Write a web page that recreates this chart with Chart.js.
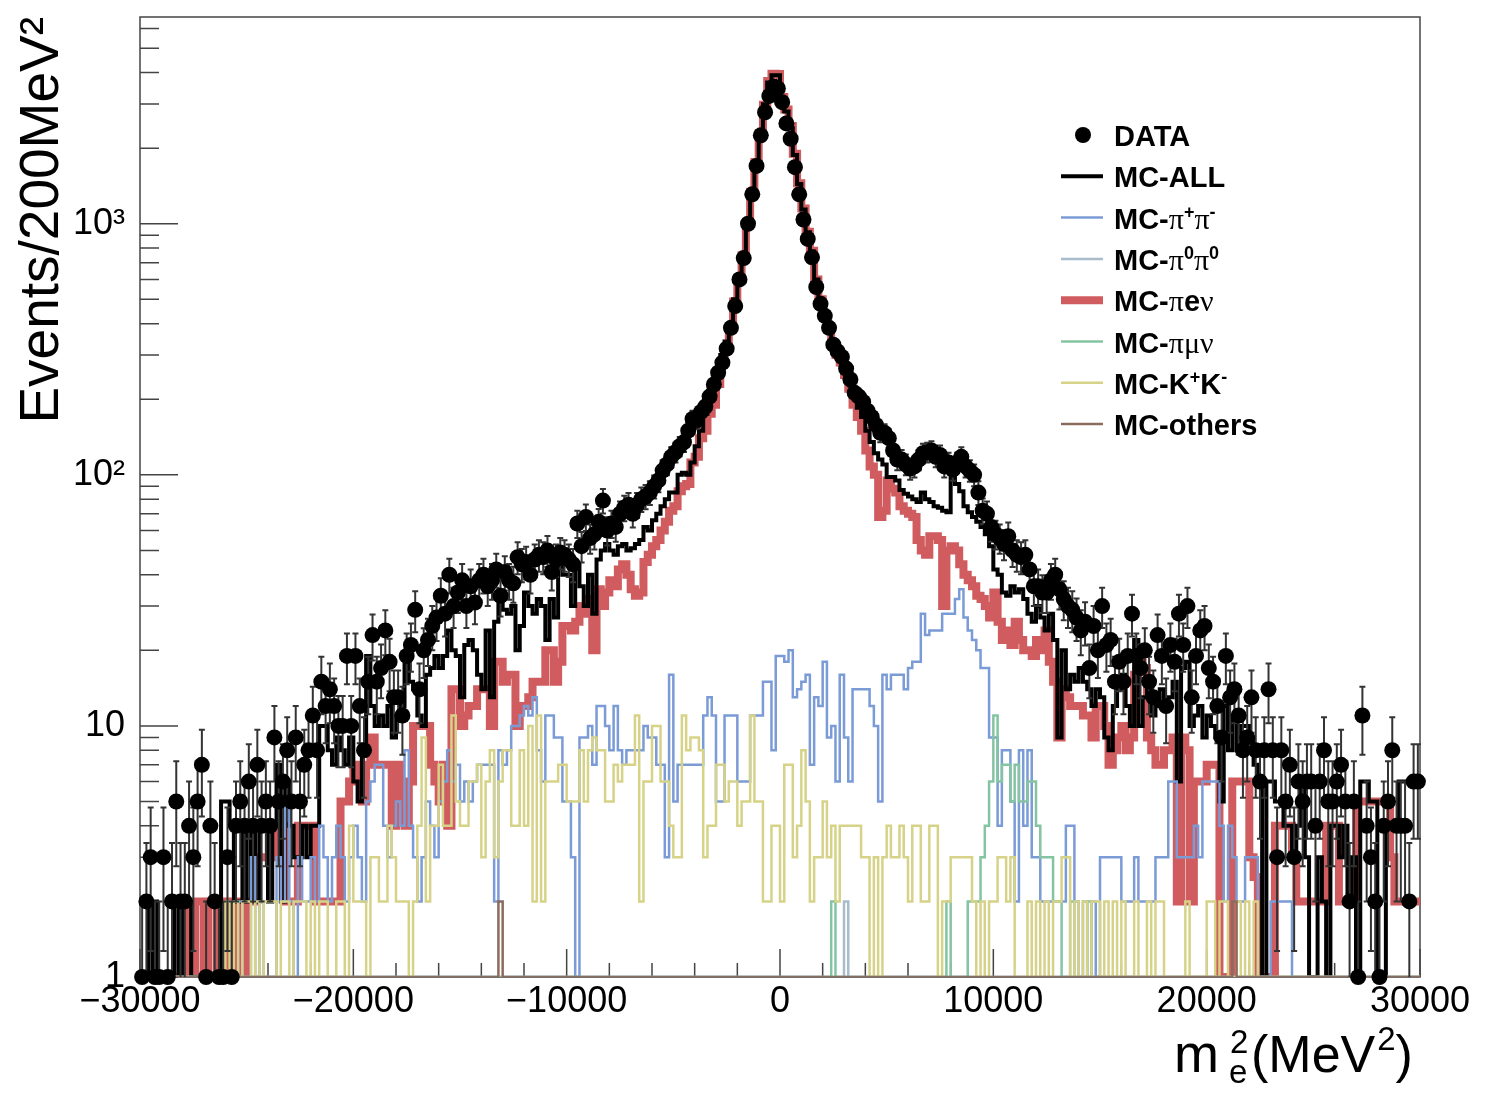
<!DOCTYPE html>
<html>
<head>
<meta charset="utf-8">
<title>m_e^2 distribution</title>
<script src="https://cdn.jsdelivr.net/npm/chart.js@4.4.1/dist/chart.umd.min.js"></script>
<style>
  html, body { margin: 0; padding: 0; background: #fff; }
  canvas { display: block; }
</style>
</head>
<body>
<canvas id="chart" width="1503" height="1098"></canvas>
<script>
// binning: 300 bins of 200 MeV^2 from -30000 to 30000
const X_LOW = -30000
const X_HIGH = 30000
const BIN_WIDTH = 200
const Y_MIN = 1
const Y_MAX = 6660

const xTickValues = [-30000, -20000, -10000, 0, 10000, 20000, 30000]
const yTickValues = [1, 10, 100, 1000]
const yTickLabels = ['1', '10', '10\u00b2', '10\u00b3']

// DATA (events per bin), 20 bins per line
const dataCounts = [
  1, 2, 3, 1, 1, 3, 1, 2, 5, 2, 2, 4, 3, 5, 7, 1, 4, 2, 1, 1,
  3, 1, 4, 5, 4, 6, 4, 7, 4, 5, 4, 9, 5, 6, 8, 5, 9, 5, 7, 8,
  11, 8, 15, 12, 14, 12, 10, 10, 19, 10, 19, 12, 8, 15, 23, 15, 17, 24, 18, 13,
  13, 11, 19, 21, 29, 14, 20, 22, 25, 27, 33, 28, 40, 30, 34, 38, 30, 36, 31, 38,
  40, 36, 38, 42, 33, 41, 38, 37, 47, 44, 45, 40, 46, 48, 47, 50, 41, 46, 49, 48,
  46, 44, 64, 52, 68, 56, 58, 65, 79, 60, 64, 62, 70, 74, 76, 70, 76, 80, 82, 85,
  90, 95, 104, 110, 118, 123, 130, 135, 150, 167, 165, 178, 187, 205, 229, 255, 280, 318, 385, 470,
  600, 730, 1000, 1310, 1700, 2250, 2780, 3230, 3520, 3460, 3050, 2510, 2180, 1680, 1310, 1040, 870, 735, 560, 480,
  430, 385, 330, 310, 295, 265, 240, 212, 205, 195, 180, 170, 158, 147, 147, 140, 125, 115, 115, 110,
  106, 108, 115, 122, 123, 125, 118, 120, 108, 112, 105, 112, 118, 108, 104, 100, 85, 72, 70, 62,
  58, 56, 53, 57, 50, 48, 47, 48, 42, 36, 36, 34, 34, 38, 40, 35, 32, 30, 29, 27,
  24, 26, 17, 25, 20, 30, 21, 22, 15, 18, 15, 19, 28, 19, 17, 20, 15, 13, 23, 19,
  12, 21, 18, 28, 21, 30, 13, 19, 24, 25, 17, 15, 12, 9, 19, 13, 14, 11, 8, 9,
  13, 8, 6, 8, 14, 8, 3, 8, 5, 7, 3, 6, 5, 6, 6, 4, 6, 8, 5, 5,
  6, 7, 5, 2, 5, 1, 11, 4, 3, 2, 1, 4, 5, 8, 4, 4, 4, 2, 6, 6
]

// MC-ALL
const mcAll = [
  2, 2, 1, 2, 0, 0, 0, 1, 2, 0, 2, 2, 0, 1, 0, 0, 0, 0, 0, 5,
  5, 4, 2, 2, 4, 2, 4, 2, 4, 4, 2, 4, 7, 2, 6, 4, 3, 3, 4, 3,
  4, 4, 10, 10, 8, 7, 9, 8, 7, 9, 6, 5, 8, 19, 12, 10, 11, 10, 12, 9,
  11, 12, 18, 15, 14, 11, 10, 16, 17, 19, 17, 19, 24, 20, 19, 13, 21, 22, 20, 16,
  14, 24, 13, 26, 31, 29, 28, 30, 20, 25, 34, 30, 28, 32, 30, 22, 32, 27, 44, 40,
  40, 30, 44, 36, 30, 40, 28, 46, 50, 53, 50, 48, 52, 53, 50, 51, 53, 55, 62, 60,
  66, 70, 75, 80, 85, 85, 100, 102, 100, 112, 130, 150, 175, 200, 230, 265, 300, 340, 400, 500,
  620, 760, 1020, 1350, 1770, 2310, 2990, 3650, 3900, 3900, 3150, 2800, 2400, 1880, 1440, 1140, 925, 775, 600, 500,
  440, 390, 340, 315, 290, 260, 230, 205, 185, 170, 150, 135, 122, 115, 110, 98, 98, 95, 87, 84,
  82, 80, 78, 85, 80, 78, 75, 74, 72, 71, 100, 92, 86, 75, 71, 68, 65, 62, 58, 52,
  42, 40, 34, 33, 36, 34, 35, 32, 28, 26, 30, 27, 24, 28, 22, 9, 20, 14, 16, 15,
  17, 15, 14, 12, 14, 13, 9, 8, 12, 14, 16, 12, 10, 22, 10, 13, 14, 11, 12, 14,
  12, 13, 15, 6, 17, 18, 10, 11, 12, 9, 11, 10, 9, 5, 12, 8, 11, 8, 10, 10,
  9, 7, 6, 0, 6, 6, 5, 5, 4, 4, 3, 4, 6, 3, 0, 0, 3, 2, 0, 4,
  4, 3, 4, 2, 3, 0, 6, 6, 5, 5, 0, 0, 4, 4, 4, 6, 6, 6, 6, 6
]

// MC-pi e nu
const mcPiENu = [
  0, 0, 0, 0, 0, 0, 0, 0, 0, 0, 0, 2, 0, 2, 2, 0, 2, 2, 0, 2,
  2, 0, 2, 2, 0, 2, 2, 3, 3, 3, 3, 3, 4, 4, 2, 2, 2, 4, 4, 4,
  4, 2, 2, 2, 2, 2, 2, 5, 5, 6, 7, 6, 5, 7, 9, 7, 7, 7, 7, 4,
  7, 5, 4, 6, 10, 10, 10, 10, 7, 6, 5, 7, 4, 14, 14, 10, 11, 12, 12, 14,
  14, 14, 10, 18, 18, 15, 16, 16, 10, 12, 12, 13, 15, 15, 15, 20, 20, 15, 18, 25,
  25, 24, 26, 30, 28, 32, 20, 35, 30, 34, 38, 36, 42, 44, 40, 35, 33, 34, 45, 48,
  52, 55, 60, 65, 72, 75, 86, 90, 92, 112, 118, 140, 150, 175, 190, 230, 280, 320, 390, 490,
  610, 750, 1010, 1340, 1760, 2300, 2980, 3700, 3960, 3950, 3200, 2850, 2450, 1900, 1450, 1150, 930, 780, 600, 500,
  430, 380, 330, 300, 280, 250, 220, 190, 170, 150, 125, 108, 100, 68, 72, 95, 88, 85, 75, 72,
  70, 68, 55, 50, 48, 57, 57, 55, 30, 50, 52, 50, 44, 40, 38, 36, 33, 32, 30, 27,
  34, 26, 22, 24, 21, 26, 22, 20, 20, 19, 22, 20, 24, 18, 15, 9, 14, 13, 12, 12,
  12, 11, 11, 9, 12, 12, 10, 7, 8, 9, 10, 8, 9, 16, 18, 17, 9, 8, 7, 7,
  8, 8, 9, 2, 9, 8, 2, 6, 6, 6, 7, 7, 7, 0, 0, 0, 6, 6, 6, 6,
  3, 2.5, 0, 0, 0, 0, 4, 4, 4, 4, 3, 2, 2, 2, 2, 2, 2, 2, 4, 4,
  4, 2, 2, 2, 2, 5, 5, 5, 5, 5, 5, 5, 5, 3, 2, 2, 2, 2, 2, 2
]

// MC-pi+ pi-
const mcPiPiCharged = [
  0, 0, 0, 0, 0, 0, 0, 0, 0, 0, 0, 0, 0, 0, 0, 0, 0, 0, 0, 0,
  0, 0, 0, 2, 0, 0, 3, 0, 2, 0, 0, 0, 3, 2, 5, 2, 0, 3, 2, 2,
  3, 2, 4, 3, 2, 3, 4, 3, 2, 3, 4, 3, 2, 5, 6, 7, 7, 4, 3, 4,
  5, 4, 8, 4, 3, 2, 3, 5, 4, 3, 5, 6, 8, 6, 7, 5, 6, 5, 6, 7,
  7, 7, 7, 2, 8, 7, 8, 10, 10, 11, 12, 11, 13, 8, 6, 11, 11, 9, 9, 5,
  5, 3, 0, 9, 9, 10, 7, 12, 12, 10, 8, 12, 8, 7, 8, 8, 8, 8, 10, 9,
  9, 7, 7, 3, 16, 5, 7, 7, 7, 7, 7, 7, 11, 13, 11, 5, 5, 11, 11, 11,
  6, 6, 6, 11, 11, 11, 15, 15, 8, 19, 19, 18, 20, 13, 14, 15, 16, 7, 13, 12,
  18, 9, 10, 6, 16, 9, 6, 14, 14, 14, 14, 12, 10, 5, 16, 14, 16, 16, 16, 14,
  17, 18, 18, 28, 23, 24, 24, 24, 28, 28, 28, 32, 35, 27, 24, 22, 20, 17, 17, 9,
  9, 4, 8, 8, 5, 2, 8, 4, 8, 3, 3, 2, 2, 2, 2, 2, 2, 4, 4, 2,
  0, 2, 0, 2, 0, 3, 3, 3, 3, 3, 2, 2, 2, 3, 2, 2, 2, 2, 3, 3,
  3, 6, 6, 3, 3, 3, 3, 4, 3, 6, 6, 6, 6, 4, 2, 4, 3, 2, 2, 3,
  3, 3, 0, 0, 0, 2, 2, 2, 2, 2, 0, 0, 0, 0, 0, 0, 0, 0, 0, 0,
  0, 0, 0, 0, 0, 0, 0, 0, 0, 0, 0, 0, 0, 0, 0, 0, 0, 0, 0, 0
]

// MC-pi0 pi0
const mcPiPiNeutral = [
  0, 0, 0, 0, 0, 0, 0, 0, 0, 0, 0, 0, 0, 0, 0, 0, 0, 0, 0, 0,
  0, 0, 0, 0, 0, 0, 0, 0, 0, 0, 0, 0, 0, 0, 0, 0, 0, 0, 0, 0,
  0, 0, 0, 0, 0, 0, 0, 0, 0, 0, 0, 0, 0, 0, 0, 0, 0, 0, 0, 0,
  0, 0, 0, 0, 0, 0, 0, 0, 0, 0, 0, 0, 0, 0, 0, 0, 0, 0, 0, 0,
  0, 0, 0, 0, 0, 0, 0, 0, 0, 0, 0, 0, 0, 0, 0, 0, 0, 0, 0, 0,
  0, 0, 0, 0, 0, 0, 0, 0, 0, 0, 0, 0, 0, 0, 0, 0, 0, 0, 0, 0,
  0, 0, 0, 0, 0, 0, 0, 0, 0, 0, 0, 0, 0, 0, 0, 0, 0, 0, 0, 0,
  0, 0, 0, 0, 0, 0, 0, 0, 0, 0, 0, 0, 0, 0, 0, 0, 0, 0, 0, 0,
  0, 0, 0, 0, 0, 2, 0, 0, 0, 0, 0, 0, 0, 0, 0, 0, 0, 0, 0, 0,
  0, 0, 0, 0, 0, 0, 0, 0, 0, 0, 0, 0, 0, 0, 0, 0, 0, 0, 0, 0,
  0, 0, 0, 0, 0, 0, 0, 0, 0, 0, 0, 0, 0, 0, 0, 0, 0, 0, 0, 0,
  0, 0, 0, 0, 0, 0, 0, 0, 0, 0, 0, 0, 0, 0, 0, 0, 0, 0, 0, 0,
  0, 0, 0, 0, 0, 0, 0, 0, 0, 0, 0, 0, 0, 0, 0, 0, 0, 0, 0, 0,
  0, 0, 0, 0, 0, 0, 0, 0, 0, 0, 0, 0, 0, 0, 0, 0, 0, 0, 0, 0,
  0, 0, 0, 0, 0, 0, 0, 0, 0, 0, 0, 0, 0, 0, 0, 0, 0, 0, 0, 0
]

// MC-pi mu nu
const mcPiMuNu = [
  0, 0, 0, 0, 0, 0, 0, 0, 0, 0, 0, 0, 0, 0, 0, 0, 0, 0, 0, 0,
  0, 0, 0, 0, 0, 0, 0, 0, 0, 0, 0, 0, 0, 0, 0, 0, 0, 0, 0, 0,
  0, 0, 0, 0, 0, 0, 0, 0, 0, 0, 0, 0, 0, 0, 0, 0, 0, 0, 0, 0,
  0, 0, 0, 0, 0, 0, 0, 0, 0, 0, 0, 0, 0, 0, 0, 0, 0, 0, 0, 0,
  0, 0, 0, 0, 0, 0, 0, 0, 0, 0, 0, 0, 0, 0, 0, 0, 0, 0, 0, 0,
  0, 0, 0, 0, 0, 0, 0, 0, 0, 0, 0, 0, 0, 0, 0, 0, 0, 0, 0, 0,
  0, 0, 0, 0, 0, 0, 0, 0, 0, 0, 0, 0, 0, 0, 0, 0, 0, 0, 0, 0,
  0, 0, 0, 0, 0, 0, 0, 0, 0, 0, 0, 0, 0, 0, 0, 0, 0, 0, 0, 0,
  0, 0, 2, 0, 0, 0, 0, 0, 0, 0, 0, 0, 0, 0, 0, 0, 0, 0, 0, 0,
  0, 0, 0, 0, 0, 0, 0, 0, 0, 2, 0, 0, 0, 0, 2, 2, 2, 3, 4, 6,
  11, 6, 7, 7, 5, 7, 5, 5, 6, 6, 4, 3, 3, 3, 2, 2, 0, 0, 2, 0,
  0, 0, 2, 0, 0, 0, 0, 0, 0, 0, 0, 0, 0, 0, 0, 0, 0, 0, 0, 0,
  0, 0, 0, 0, 0, 0, 0, 0, 0, 0, 0, 0, 0, 0, 0, 0, 0, 0, 0, 0,
  0, 0, 0, 0, 0, 0, 0, 0, 0, 0, 0, 0, 0, 0, 0, 0, 0, 0, 0, 0,
  0, 0, 0, 0, 0, 0, 0, 0, 0, 0, 0, 0, 0, 0, 0, 0, 0, 0, 0, 0
]

// MC-K+ K-
const mcKK = [
  0, 0, 0, 0, 0, 0, 0, 0, 0, 0, 0, 0, 0, 0, 0, 0, 0, 0, 0, 0,
  2, 0, 2, 0, 2, 2, 0, 2, 0, 2, 2, 2, 0, 2, 2, 0, 2, 2, 2, 0,
  2, 0, 2, 2, 0, 0, 2, 2, 0, 4, 2, 2, 2, 0, 3, 3, 2, 2, 4, 3,
  2, 2, 2, 0, 2, 4, 9, 2, 4, 4, 7, 4, 4, 11, 5, 4, 4, 6, 6, 7,
  3, 6, 8, 3, 6, 8, 8, 4, 4, 8, 4, 10, 2, 11, 2, 6, 6, 6, 7, 7,
  5, 5, 5, 8, 5, 8, 9, 8, 8, 5, 5, 7, 6, 7, 7, 7, 11, 2, 6, 6,
  10, 10, 6, 6, 4, 3, 3, 11, 8, 9, 9, 8, 3, 4, 4, 7, 7, 5, 6, 6,
  4, 5, 5, 11, 5, 5, 2, 2, 4, 4, 2, 7, 7, 3, 4, 8, 5, 2, 3, 3,
  5, 3, 4, 2, 4, 4, 4, 4, 4, 3, 3, 0, 3, 0, 3, 4, 3, 3, 4, 3,
  2, 4, 4, 2, 2, 4, 4, 0, 2, 2, 3, 3, 3, 3, 3, 2, 0, 2, 0, 2,
  2, 3, 3, 2, 3, 0, 0, 0, 2, 0, 2, 0, 2, 0, 2, 2, 3, 3, 0, 2,
  0, 2, 0, 2, 2, 0, 2, 0, 2, 0, 2, 0, 0, 2, 0, 0, 2, 0, 2, 2,
  0, 0, 0, 0, 0, 2, 0, 0, 0, 0, 2, 2, 0, 2, 2, 0, 0, 2, 0, 2,
  0, 2, 0, 0, 0, 0, 0, 0, 0, 0, 0, 0, 0, 0, 0, 0, 0, 0, 0, 0,
  0, 0, 0, 0, 0, 0, 0, 0, 0, 0, 0, 0, 0, 0, 0, 0, 0, 0, 0, 0
]

// MC-others
const mcOthers = [
  0, 0, 0, 0, 0, 0, 0, 0, 0, 0, 0, 0, 0, 0, 0, 0, 0, 0, 0, 0,
  0, 0, 0, 0, 0, 0, 0, 0, 0, 0, 0, 0, 0, 0, 0, 0, 0, 0, 0, 0,
  0, 0, 0, 0, 0, 0, 0, 0, 0, 0, 0, 0, 0, 0, 0, 0, 0, 0, 0, 0,
  0, 0, 0, 0, 0, 0, 0, 0, 0, 0, 0, 0, 0, 0, 0, 0, 0, 0, 0, 0,
  0, 0, 0, 0, 2, 0, 0, 0, 0, 0, 0, 0, 0, 0, 0, 0, 0, 0, 0, 0,
  0, 0, 0, 0, 0, 0, 0, 0, 0, 0, 0, 0, 0, 0, 0, 0, 0, 0, 0, 0,
  0, 0, 0, 0, 0, 0, 0, 0, 0, 0, 0, 0, 0, 0, 0, 0, 0, 0, 0, 0,
  0, 0, 0, 0, 0, 0, 0, 0, 0, 0, 0, 0, 0, 0, 0, 0, 0, 0, 0, 0,
  0, 0, 0, 0, 0, 0, 0, 0, 0, 0, 0, 0, 0, 0, 0, 0, 0, 0, 0, 0,
  0, 0, 0, 0, 0, 0, 0, 0, 0, 0, 0, 0, 0, 0, 0, 0, 0, 0, 0, 0,
  0, 0, 0, 0, 0, 0, 0, 0, 0, 0, 0, 0, 0, 0, 0, 0, 0, 0, 0, 0,
  0, 0, 0, 0, 0, 0, 0, 0, 0, 0, 0, 0, 0, 0, 0, 0, 0, 0, 0, 0,
  0, 0, 0, 0, 0, 0, 0, 0, 0, 0, 0, 0, 0, 0, 0, 0, 2, 0, 0, 0,
  0, 0, 0, 0, 0, 0, 0, 0, 0, 0, 0, 0, 0, 0, 0, 0, 0, 0, 0, 0,
  0, 0, 0, 0, 0, 0, 0, 0, 0, 0, 0, 0, 0, 0, 0, 0, 0, 0, 0, 0
]

const FONT = "'Liberation Sans', Arial, Helvetica, sans-serif"
const GREEK = "'Liberation Serif', 'DejaVu Serif', serif"

const colRed = '#d05c5f'
const colBlue = '#7b9bd6'
const colGrey = '#a9bccb'
const colGreen = '#84c4a2'
const colYellow = '#d6d388'
const colBrown = '#8c6b5f'

// histogram outline: both edges of each bin, empty bins sit on the axis floor
function histogram(counts) {
  const pts = []
  counts.forEach((n, i) => {
    const y = Math.max(n, Y_MIN)
    pts.push({ x: X_LOW + i * BIN_WIDTH, y: y })
    pts.push({ x: X_LOW + (i + 1) * BIN_WIDTH, y: y })
  })
  return pts
}

function dataPoints(counts) {
  const pts = []
  counts.forEach((n, i) => {
    if (n > 0) pts.push({ x: X_LOW + (i + 0.5) * BIN_WIDTH, y: n })
  })
  return pts
}

function histSet(label, counts, color, width) {
  return {
    label: label,
    data: histogram(counts),
    borderColor: color,
    backgroundColor: color,
    borderWidth: width,
    pointRadius: 0,
    fill: false,
    tension: 0,
    borderJoinStyle: 'miter',
    borderCapStyle: 'butt'
  }
}

// frame and inner tick marks, ROOT style
const rootFrame = {
  id: 'rootFrame',
  beforeDatasetsDraw(chart) {
    const { ctx, chartArea: a, scales: { x, y } } = chart
    ctx.save()
    ctx.strokeStyle = '#444'
    ctx.lineWidth = 1.5
    ctx.beginPath()
    for (let v = X_LOW; v <= X_HIGH; v += 2000) {
      const px = x.getPixelForValue(v)
      const len = v % 10000 === 0 ? 28 : 14
      ctx.moveTo(px, a.bottom)
      ctx.lineTo(px, a.bottom - len)
    }
    for (let d = 1; d <= Y_MAX; d *= 10) {
      for (let k = 1; k < 10; k++) {
        if (d * k > Y_MAX) break
        const py = y.getPixelForValue(d * k)
        ctx.moveTo(a.left, py)
        ctx.lineTo(a.left + (k === 1 ? 38 : 19), py)
      }
    }
    ctx.stroke()
    ctx.strokeRect(a.left, a.top, a.right - a.left, a.bottom - a.top)
    ctx.restore()
  }
}

// sqrt(N) error bars under the data markers
const dataErrors = {
  id: 'dataErrors',
  beforeDatasetDraw(chart, args) {
    if (args.index !== 0) return
    const { ctx, chartArea: a, scales: { x, y } } = chart
    ctx.save()
    ctx.strokeStyle = '#333'
    ctx.lineWidth = 2
    ctx.beginPath()
    dataCounts.forEach((n, i) => {
      if (n <= 0) return
      const px = x.getPixelForValue(X_LOW + (i + 0.5) * BIN_WIDTH)
      const err = Math.sqrt(n)
      const top = Math.max(y.getPixelForValue(n + err), a.top)
      const lowVal = n - err
      const bot = lowVal > Y_MIN ? y.getPixelForValue(lowVal) : a.bottom
      ctx.moveTo(px, top)
      ctx.lineTo(px, bot)
      ctx.moveTo(px - 3, top)
      ctx.lineTo(px + 3, top)
      if (lowVal > Y_MIN) {
        ctx.moveTo(px - 3, bot)
        ctx.lineTo(px + 3, bot)
      }
    })
    ctx.stroke()
    ctx.restore()
  }
}

function drawParts(ctx, parts, x, baseline) {
  let cx = x
  for (const p of parts) {
    const [text, kind] = p
    if (kind === 'g') ctx.font = '30px ' + GREEK
    else if (kind === 's') ctx.font = 'bold 18px ' + FONT
    else ctx.font = 'bold 29px ' + FONT
    const by = kind === 's' ? baseline - 11 : baseline
    ctx.fillText(text, cx, by)
    cx += ctx.measureText(text).width
  }
}

const legendRows = [
  { mark: 'dot', color: '#000', width: 0, parts: [['DATA']] },
  { mark: 'line', color: '#000', width: 4, parts: [['MC-ALL']] },
  { mark: 'line', color: colBlue, width: 2.5, parts: [['MC-'], ['\u03c0', 'g'], ['+', 's'], ['\u03c0', 'g'], ['-', 's']] },
  { mark: 'line', color: colGrey, width: 2.5, parts: [['MC-'], ['\u03c0', 'g'], ['0', 's'], ['\u03c0', 'g'], ['0', 's']] },
  { mark: 'line', color: colRed, width: 8, parts: [['MC-'], ['\u03c0', 'g'], ['e'], ['\u03bd', 'g']] },
  { mark: 'line', color: colGreen, width: 2.5, parts: [['MC-'], ['\u03c0\u03bc\u03bd', 'g']] },
  { mark: 'line', color: colYellow, width: 2.5, parts: [['MC-K'], ['+', 's'], ['K'], ['-', 's']] },
  { mark: 'line', color: colBrown, width: 2.5, parts: [['MC-others']] }
]

const rootLegend = {
  id: 'rootLegend',
  afterDraw(chart) {
    const ctx = chart.ctx
    ctx.save()
    ctx.fillStyle = '#000'
    ctx.textBaseline = 'alphabetic'
    legendRows.forEach((row, i) => {
      const cy = 135 + i * 41.3
      if (row.mark === 'dot') {
        ctx.beginPath()
        ctx.arc(1083, cy, 8, 0, Math.PI * 2)
        ctx.fill()
      } else {
        ctx.strokeStyle = row.color
        ctx.lineWidth = row.width
        ctx.beginPath()
        ctx.moveTo(1061, cy)
        ctx.lineTo(1103, cy)
        ctx.stroke()
      }
      drawParts(ctx, row.parts, 1114, cy + 11)
    })

    // x axis title: m_e^2 (MeV^2), right aligned
    ctx.font = '54px ' + FONT
    ctx.fillText('m', 1174, 1072)
    ctx.font = '33px ' + FONT
    ctx.fillText('2', 1230, 1053)
    ctx.fillText('e', 1229, 1083)
    ctx.font = '52px ' + FONT
    ctx.fillText('(MeV', 1251, 1072)
    let cx = 1251 + ctx.measureText('(MeV').width
    ctx.font = '33px ' + FONT
    ctx.fillText('2', cx + 2, 1050)
    cx += 2 + ctx.measureText('2').width
    ctx.font = '52px ' + FONT
    ctx.fillText(')', cx, 1072)
    ctx.restore()
  }
}

new Chart(document.getElementById('chart'), {
  type: 'line',
  data: {
    datasets: [
      {
        label: 'DATA',
        data: dataPoints(dataCounts),
        showLine: false,
        pointRadius: 8,
        pointBorderWidth: 0,
        pointBackgroundColor: '#000',
        borderColor: '#000',
        clip: false
      },
      histSet('MC-others', mcOthers, colBrown, 2.5),
      histSet('MC-K+K-', mcKK, colYellow, 2.5),
      histSet('MC-pi mu nu', mcPiMuNu, colGreen, 2.5),
      histSet('MC-pi0 pi0', mcPiPiNeutral, colGrey, 2.5),
      histSet('MC-pi+ pi-', mcPiPiCharged, colBlue, 2.5),
      histSet('MC-ALL', mcAll, '#000', 4),
      histSet('MC-pi e nu', mcPiENu, colRed, 8)
    ]
  },
  options: {
    responsive: false,
    animation: false,
    events: [],
    layout: { padding: { left: 0, right: 83, top: 17, bottom: 0 } },
    plugins: {
      legend: { display: false },
      tooltip: { enabled: false }
    },
    scales: {
      x: {
        type: 'linear',
        min: X_LOW,
        max: X_HIGH,
        grid: { display: false, drawTicks: false },
        border: { display: false },
        afterBuildTicks(scale) {
          scale.ticks = xTickValues.map(v => ({ value: v }))
        },
        afterFit(scale) {
          scale.height = 121
          scale.paddingLeft = 0
          scale.paddingRight = 0
        },
        ticks: {
          autoSkip: false,
          maxRotation: 0,
          padding: 3,
          color: '#000',
          font: { family: FONT, size: 36 },
          callback: v => (v < 0 ? '\u2212' + Math.abs(v) : String(v))
        }
      },
      y: {
        type: 'logarithmic',
        min: Y_MIN,
        max: Y_MAX,
        grid: { display: false, drawTicks: false },
        border: { display: false },
        afterBuildTicks(scale) {
          scale.ticks = yTickValues.map(v => ({ value: v }))
        },
        afterFit(scale) {
          scale.width = 140
          scale.paddingTop = 0
          scale.paddingBottom = 0
        },
        ticks: {
          autoSkip: false,
          padding: 15,
          color: '#000',
          font: { family: FONT, size: 36 },
          callback: v => yTickLabels[yTickValues.indexOf(v)]
        },
        title: {
          display: true,
          text: 'Events/200MeV\u00b2',
          align: 'end',
          color: '#000',
          font: { family: FONT, size: 55, lineHeight: 1.2 },
          padding: { top: 10, bottom: 0 }
        }
      }
    }
  },
  plugins: [rootFrame, dataErrors, rootLegend]
})
</script>
</body>
</html>
